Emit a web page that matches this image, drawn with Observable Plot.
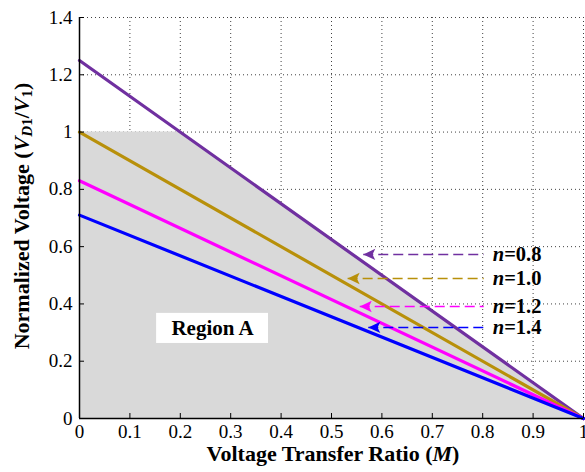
<!DOCTYPE html>
<html><head><meta charset="utf-8">
<script src="https://cdn.jsdelivr.net/npm/d3@7"></script>
<script src="https://cdn.jsdelivr.net/npm/@observablehq/plot@0.6"></script>
<style>body{margin:0;background:#fff} svg text{font-family:"Liberation Serif",serif}</style>
</head><body><div id="chart"></div>
<script>
// ---- data ----
const nLabels = ["0.8", "1.0", "1.2", "1.4"];
const lineColors = ["#7030A0", "#B8900A", "#FF00FF", "#0000FF"];
const vAtM0 = [1.25, 1.0, 0.83, 0.71];   // normalized voltage at M = 0
const vAtM1 = [0, 0, 0, 0];              // normalized voltage at M = 1
const arrowTipM = [0.563, 0.532, 0.556, 0.573];
const arrowV = [0.573, 0.489, 0.391, 0.318];
const dashEndM = [0.802, 0.802, 0.802, 0.802];
const labelM = [0.82, 0.82, 0.82, 0.82];
const regionM = [0, 0.2, 1];
const regionV = [1, 1, 0];
const regionBoxM = [0.153, 0.375];
const regionBoxV = [0.262, 0.367];
const regionLabel = "Region A";
const xTicks = [0, 0.1, 0.2, 0.3, 0.4, 0.5, 0.6, 0.7, 0.8, 0.9, 1];
const yTicks = [0, 0.2, 0.4, 0.6, 0.8, 1, 1.2, 1.4];

// ---- tables ----
const lineData = nLabels.flatMap((n, i) => [
  {n, M: 0, V: vAtM0[i]},
  {n, M: 1, V: vAtM1[i]}
]);
const annot = nLabels.map((n, i) => ({
  n, tip: arrowTipM[i], V: arrowV[i], end: dashEndM[i], lx: labelM[i], color: lineColors[i]
}));
const region = regionM.map((M, i) => ({M, V: regionV[i]}));

const arrowSymbol = {
  draw(ctx, size) {
    const r = Math.sqrt(size / Math.PI);
    ctx.moveTo(0, 0);
    ctx.lineTo(2 * r, -0.95 * r);
    ctx.lineTo(1.55 * r, 0);
    ctx.lineTo(2 * r, 0.95 * r);
    ctx.closePath();
  }
};

const font = "Liberation Serif";
const chart = Plot.plot({
  width: 585,
  height: 472,
  marginLeft: 79,
  marginRight: 2,
  marginTop: 17,
  marginBottom: 54,
  style: {fontFamily: "'Liberation Serif', serif", fontSize: "18px", background: "#fff", overflow: "visible"},
  x: {domain: [0, 1]},
  y: {domain: [0, 1.4]},
  color: {domain: nLabels, range: lineColors},
  marks: [
    Plot.ruleX(xTicks.slice(1), {stroke: "#000", strokeOpacity: 0.75, strokeDasharray: "1,3"}),
    Plot.ruleY(yTicks.slice(1), {stroke: "#000", strokeOpacity: 0.75, strokeDasharray: "1,3"}),
    Plot.areaY(region, {x: "M", y1: 0, y2: "V", fill: "#D9D9D9"}),
    Plot.line(lineData, {x: "M", y: "V", z: "n", stroke: "n", strokeWidth: 3.2}),
    Plot.link(annot, {x1: "tip", x2: "end", y1: "V", y2: "V", stroke: "color", strokeWidth: 1.5, strokeDasharray: "10,5"}),
    Plot.dot(annot, {x: "tip", y: "V", fill: "color", symbol: arrowSymbol, r: 6}),
    Plot.text(annot, {x: "lx", y: "V", text: d => "n=" + d.n, textAnchor: "start", fontFamily: font, fontWeight: "bold", fontSize: 20.5, fill: "#000"}),
    Plot.rect([0], {x1: regionBoxM[0], x2: regionBoxM[1], y1: regionBoxV[0], y2: regionBoxV[1], fill: "#fff"}),
    Plot.text([regionLabel], {x: (regionBoxM[0] + regionBoxM[1]) / 2, y: (regionBoxV[0] + regionBoxV[1]) / 2, text: d => d, fontFamily: font, fontWeight: "bold", fontSize: 21, fill: "#000"}),
    Plot.ruleX([0], {stroke: "#000", strokeWidth: 1.5}),
    Plot.ruleY([0], {stroke: "#000", strokeWidth: 1.5}),
    Plot.axisX({ticks: xTicks, tickSize: -5, tickPadding: 11, tickFormat: d => String(d), label: null, fontFamily: font, fontSize: 19, color: "#000"}),
    Plot.axisY({ticks: yTicks, tickSize: -5, tickPadding: 12, tickFormat: d => String(d), label: null, fontFamily: font, fontSize: 19, color: "#000"})
  ]
});
document.getElementById("chart").append(chart);

const svg = d3.select(chart);
// italic "n" in the curve labels
svg.selectAll("text").filter(function () { return /^n=/.test(this.textContent); }).each(function () {
  const rest = this.textContent.slice(1);
  const t = d3.select(this);
  t.text(null);
  t.append("tspan").attr("font-style", "italic").text("n");
  t.append("tspan").text(rest);
});

const xt = svg.append("text")
  .attr("x", 333).attr("y", 456)
  .attr("text-anchor", "middle").attr("dominant-baseline", "middle")
  .attr("font-family", font).attr("font-weight", "bold").attr("font-size", 22).attr("fill", "#000");
xt.append("tspan").text("Voltage Transfer Ratio (");
xt.append("tspan").attr("font-style", "italic").text("M");
xt.append("tspan").text(")");

const yt = svg.append("text")
  .attr("transform", "translate(24,216) rotate(-90)")
  .attr("text-anchor", "middle").attr("dominant-baseline", "middle")
  .attr("font-family", font).attr("font-weight", "bold").attr("font-size", 22).attr("fill", "#000");
yt.append("tspan").text("Normalized Voltage (");
yt.append("tspan").attr("font-style", "italic").text("V");
yt.append("tspan").attr("font-style", "italic").attr("font-size", 15).attr("dy", 5).text("D");
yt.append("tspan").attr("font-size", 15).text("1");
yt.append("tspan").attr("dy", -5).text("/");
yt.append("tspan").attr("font-style", "italic").text("V");
yt.append("tspan").attr("font-size", 15).attr("dy", 5).text("1");
yt.append("tspan").attr("dy", -5).text(")");
</script>
</body></html>
